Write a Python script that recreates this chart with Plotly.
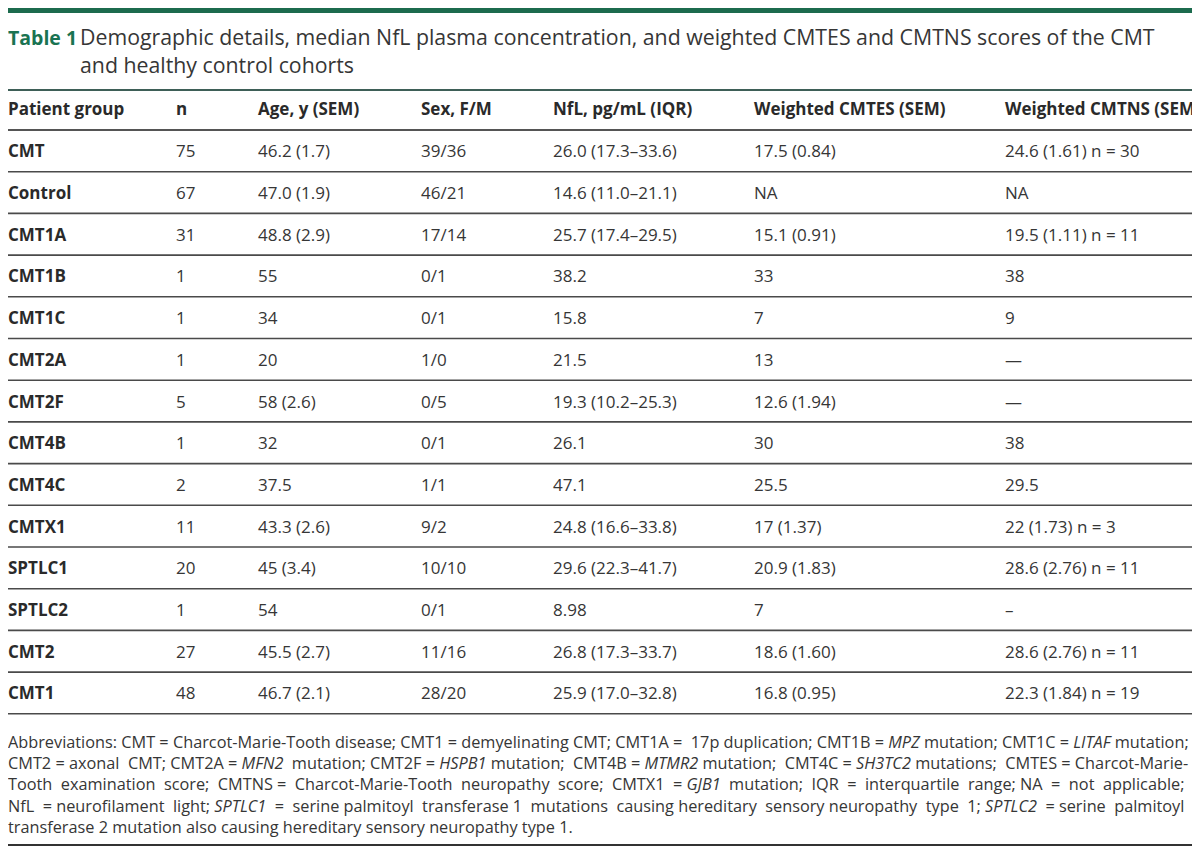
import plotly.graph_objects as go

# ---- data ----
headers = ["Patient group", "n", "Age, y (SEM)", "Sex, F/M", "NfL, pg/mL (IQR)",
           "Weighted CMTES (SEM)", "Weighted CMTNS (SEM)"]
groups = ["CMT", "Control", "CMT1A", "CMT1B", "CMT1C", "CMT2A", "CMT2F", "CMT4B",
          "CMT4C", "CMTX1", "SPTLC1", "SPTLC2", "CMT2", "CMT1"]
n_vals = ["75", "67", "31", "1", "1", "1", "5", "1", "2", "11", "20", "1", "27", "48"]
age_vals = ["46.2 (1.7)", "47.0 (1.9)", "48.8 (2.9)", "55", "34", "20", "58 (2.6)", "32",
            "37.5", "43.3 (2.6)", "45 (3.4)", "54", "45.5 (2.7)", "46.7 (2.1)"]
sex_vals = ["39/36", "46/21", "17/14", "0/1", "0/1", "1/0", "0/5", "0/1", "1/1", "9/2",
            "10/10", "0/1", "11/16", "28/20"]
nfl_vals = ["26.0 (17.3–33.6)", "14.6 (11.0–21.1)", "25.7 (17.4–29.5)", "38.2", "15.8",
            "21.5", "19.3 (10.2–25.3)", "26.1", "47.1", "24.8 (16.6–33.8)",
            "29.6 (22.3–41.7)", "8.98", "26.8 (17.3–33.7)", "25.9 (17.0–32.8)"]
cmtes_vals = ["17.5 (0.84)", "NA", "15.1 (0.91)", "33", "7", "13", "12.6 (1.94)", "30",
              "25.5", "17 (1.37)", "20.9 (1.83)", "7", "18.6 (1.60)", "16.8 (0.95)"]
cmtns_vals = ["24.6 (1.61) n = 30", "NA", "19.5 (1.11) n = 11", "38", "9", "—", "—", "38",
              "29.5", "22 (1.73) n = 3", "28.6 (2.76) n = 11", "–", "28.6 (2.76) n = 11",
              "22.3 (1.84) n = 19"]

title_label = "Table 1"
title_lines = ["Demographic details, median NfL plasma concentration, and weighted CMTES and CMTNS scores of the CMT",
               "and healthy control cohorts"]
footnote_lines = [
    "Abbreviations: CMT = Charcot-Marie-Tooth disease; CMT1 = demyelinating CMT; CMT1A = 17p duplication; CMT1B = <i>MPZ</i> mutation; CMT1C = <i>LITAF</i> mutation;",
    "CMT2 = axonal CMT; CMT2A = <i>MFN2</i> mutation; CMT2F = <i>HSPB1</i> mutation; CMT4B = <i>MTMR2</i> mutation; CMT4C = <i>SH3TC2</i> mutations; CMTES = Charcot-Marie-",
    "Tooth examination score; CMTNS = Charcot-Marie-Tooth neuropathy score; CMTX1 = <i>GJB1</i> mutation; IQR = interquartile range; NA = not applicable;",
    "NfL = neurofilament light; <i>SPTLC1</i> = serine palmitoyl transferase 1 mutations causing hereditary sensory neuropathy type 1; <i>SPTLC2</i> = serine palmitoyl",
    "transferase 2 mutation also causing hereditary sensory neuropathy type 1.",
]
# extra (non-breaking) spaces used to approximate the justified footnote lines
foot_extra = [1, 5, 16, 12, 0]

# ---- layout constants ----
W, H = 1200, 847
OFF = 8            # page body margin of the browser
FONT = "Open Sans"
TXT = "#363636"
GREEN = "#1c6b4e"
col_x = [8, 176, 258, 421, 553, 754, 1005]
header_y = 108
first_line_y = 130
row_h = 41.7
BODY = 17
FOOT = 16.3


def justify(line, extra):
    words = line.split(" ")
    gaps = len(words) - 1
    if extra <= 0 or gaps <= 0:
        return line
    pick = set(int((k + 0.5) * gaps / extra) for k in range(extra))
    out = words[0]
    for g in range(gaps):
        out += (" \u00a0" if g in pick else " ") + words[g + 1]
    return out


columns = [groups, n_vals, age_vals, sex_vals, nfl_vals, cmtes_vals, cmtns_vals]

fig = go.Figure()
ann = []
shapes = []

# green top bar (first visible pixels of the page)
shapes.append(dict(type="rect", xref="x", yref="y", x0=OFF, x1=W, y0=OFF, y1=OFF + 5,
                   fillcolor=GREEN, line_width=0))

# title
ann.append(dict(x=8, y=37, text="<b>" + title_label + "</b>", xanchor="left", yanchor="middle",
                font=dict(family=FONT, size=19.5, color="#1a7352")))
ann.append(dict(x=80, y=50, text="<br>".join(title_lines), xanchor="left", yanchor="middle",
                align="left", font=dict(family=FONT, size=21.3, color=TXT)))

# title divider
shapes.append(dict(type="line", xref="x", yref="y", x0=OFF, x1=W, y0=90, y1=90,
                   line=dict(color="#3e5f57", width=2)))

# header
for cx, h in zip(col_x, headers):
    ann.append(dict(x=cx, y=header_y, text="<b>" + h + "</b>", xanchor="left", yanchor="middle",
                    font=dict(family=FONT, size=BODY, color="#2a2a2a")))
shapes.append(dict(type="line", xref="x", yref="y", x0=OFF, x1=W, y0=first_line_y, y1=first_line_y,
                   line=dict(color="#555555", width=2)))

# body
for r in range(len(groups)):
    yc = first_line_y + row_h * (r + 0.5)
    for c, (cx, col) in enumerate(zip(col_x, columns)):
        txt = col[r]
        if c == 0:
            txt = "<b>" + txt + "</b>"
        ann.append(dict(x=cx, y=yc, text=txt, xanchor="left", yanchor="middle",
                        font=dict(family=FONT, size=BODY, color="#2a2a2a" if c == 0 else TXT)))
    yl = first_line_y + row_h * (r + 1)
    shapes.append(dict(type="line", xref="x", yref="y", x0=OFF, x1=W, y0=yl, y1=yl,
                       line=dict(color="#4a4a4a", width=1.6)))

# footnote (one block, lines separated by <br>)
foot_text = "<br>".join(justify(t, e) for t, e in zip(footnote_lines, foot_extra))
ann.append(dict(x=8, y=784, text=foot_text, xanchor="left", yanchor="middle", align="left",
                font=dict(family=FONT, size=FOOT, color=TXT)))

shapes.append(dict(type="line", xref="x", yref="y", x0=OFF, x1=W, y0=845, y1=845,
                   line=dict(color="#333333", width=2)))

for a in ann:
    a.update(xref="x", yref="y", showarrow=False, xshift=-2)

fig.update_layout(
    width=W - OFF, height=H - OFF, margin=dict(l=0, r=0, t=0, b=0, autoexpand=False),
    paper_bgcolor="white", plot_bgcolor="white",
    xaxis=dict(range=[OFF, W], visible=False, fixedrange=True),
    yaxis=dict(range=[H, OFF], visible=False, fixedrange=True),
    annotations=ann, shapes=shapes, showlegend=False,
)
fig.write_html("out.html")
